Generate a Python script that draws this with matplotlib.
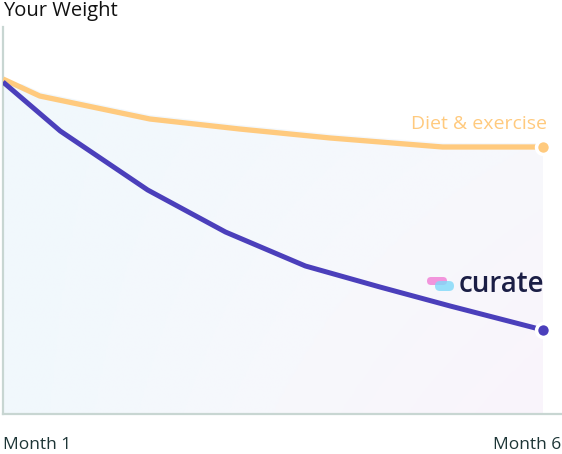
import numpy as np
import matplotlib
matplotlib.use("Agg")
import matplotlib.pyplot as plt
from matplotlib.patches import FancyBboxPatch, Polygon
from matplotlib.colors import LinearSegmentedColormap
from matplotlib.transforms import IdentityTransform

# ---- data ----
months_diet = [1.0, 1.34, 2.36, 3.19, 4.03, 5.07, 6.0]
weight_diet = [335, 318, 295, 285, 276, 267, 267]
months_curate = [1.0, 1.53, 2.34, 3.06, 3.80, 4.49, 5.14, 6.0]
weight_curate = [332, 283, 224, 182, 148, 127, 108, 84]
tick_labels = ["Month 1", "Month 6"]
title = "Your Weight"
label_diet = "Diet & exercise"
label_curate = "curate"

ORANGE = "#ffca7e"
PURPLE = "#4b3fbb"
AXIS = "#c8d6d2"
TEXT = "#1d3536"
NAVY = "#1b1e45"

plt.rcParams['font.family'] = ['Open Sans', 'DejaVu Sans']

W, H = 562, 454
fig = plt.figure(figsize=(W / 100, H / 100), dpi=100)
px_per_month = 108
left_px, bottom_px, top_px = 3, 414, 27
ax = fig.add_axes([left_px / W, (H - bottom_px) / H, (W - left_px) / W, (bottom_px - top_px) / H])
ax.set_xlim(1, 1 + (W - left_px) / px_per_month)
ax.set_ylim(0, bottom_px - top_px)
ax.set_facecolor("none")
for s in ["top", "right"]:
    ax.spines[s].set_visible(False)
ax.spines["left"].set_color(AXIS)
ax.spines["bottom"].set_color(AXIS)
ax.spines["left"].set_linewidth(1.6)
ax.spines["bottom"].set_linewidth(1.6)
ax.set_xticks([])
ax.set_yticks([])

# gradient background under diet line
cmap = LinearSegmentedColormap.from_list("bg", ["#f1f8fd", "#f7f8fc", "#faf4fb"])
gx = np.linspace(0, 1, 200)
gy = np.linspace(0, 1, 100)
GX, GY = np.meshgrid(gx, gy)
grad = 0.75 * GX * (0.4 + 0.6 * GY)
im = ax.imshow(grad, extent=[1, 6, 0, 330], origin="upper", cmap=cmap, aspect="auto", zorder=0,
               vmin=0, vmax=0.75)
poly_x = list(months_diet) + [6, 1]
poly_y = [w + 4 for w in weight_diet] + [0, 0]
clip = Polygon(np.column_stack([poly_x, poly_y]), closed=True, transform=ax.transData, facecolor="none", edgecolor="none")
ax.add_patch(clip)
im.set_clip_path(clip)

ax.plot(months_diet, weight_diet, color=ORANGE, lw=3.8, solid_capstyle="butt", solid_joinstyle="round", zorder=3)
ax.plot(months_curate, weight_curate, color=PURPLE, lw=3.6, solid_capstyle="butt", solid_joinstyle="round", zorder=3)
ax.plot([months_diet[-1]], [weight_diet[-1]], "o", ms=10, mfc=ORANGE, mec="white", mew=2.5, zorder=4, clip_on=False)
ax.plot([months_curate[-1]], [weight_curate[-1]], "o", ms=10, mfc=PURPLE, mec="white", mew=2.5, zorder=4, clip_on=False)

ax.text(months_diet[-1] + 0.04, weight_diet[-1] + 18, label_diet, color=ORANGE, fontsize=14,
        ha="right", va="baseline", zorder=5)
ax.text(months_curate[-1] + 0.01, weight_curate[-1] + 38, label_curate, color=NAVY, fontsize=20,
        ha="right", va="baseline", fontweight="semibold", zorder=5)

# logo pills, drawn in display pixels (figure is W x H pixels at dpi 100)
def pill(x0, y0, w, h, color, alpha):
    p = FancyBboxPatch((x0, H - (y0 + h)), w, h,
                       boxstyle=f"round,pad=0,rounding_size={h/2}", transform=IdentityTransform(),
                       facecolor=color, edgecolor="none", alpha=alpha, zorder=6)
    fig.patches.append(p)

pill(427, 277, 20, 8, "#f28ad9", 0.9)
pill(435, 281, 19, 10, "#7fd9f9", 0.8)

fig.text(3 / W, 1 - 16 / H, title, fontsize=14.5, color="#111", ha="left", va="baseline")
fig.text(3 / W, 1 - 449 / H, tick_labels[0], fontsize=12.5, color=TEXT, ha="left", va="baseline")
fig.text(561 / W, 1 - 449 / H, tick_labels[1], fontsize=12.5, color=TEXT, ha="right", va="baseline")

fig.savefig("out.png", dpi=100, facecolor="white")
